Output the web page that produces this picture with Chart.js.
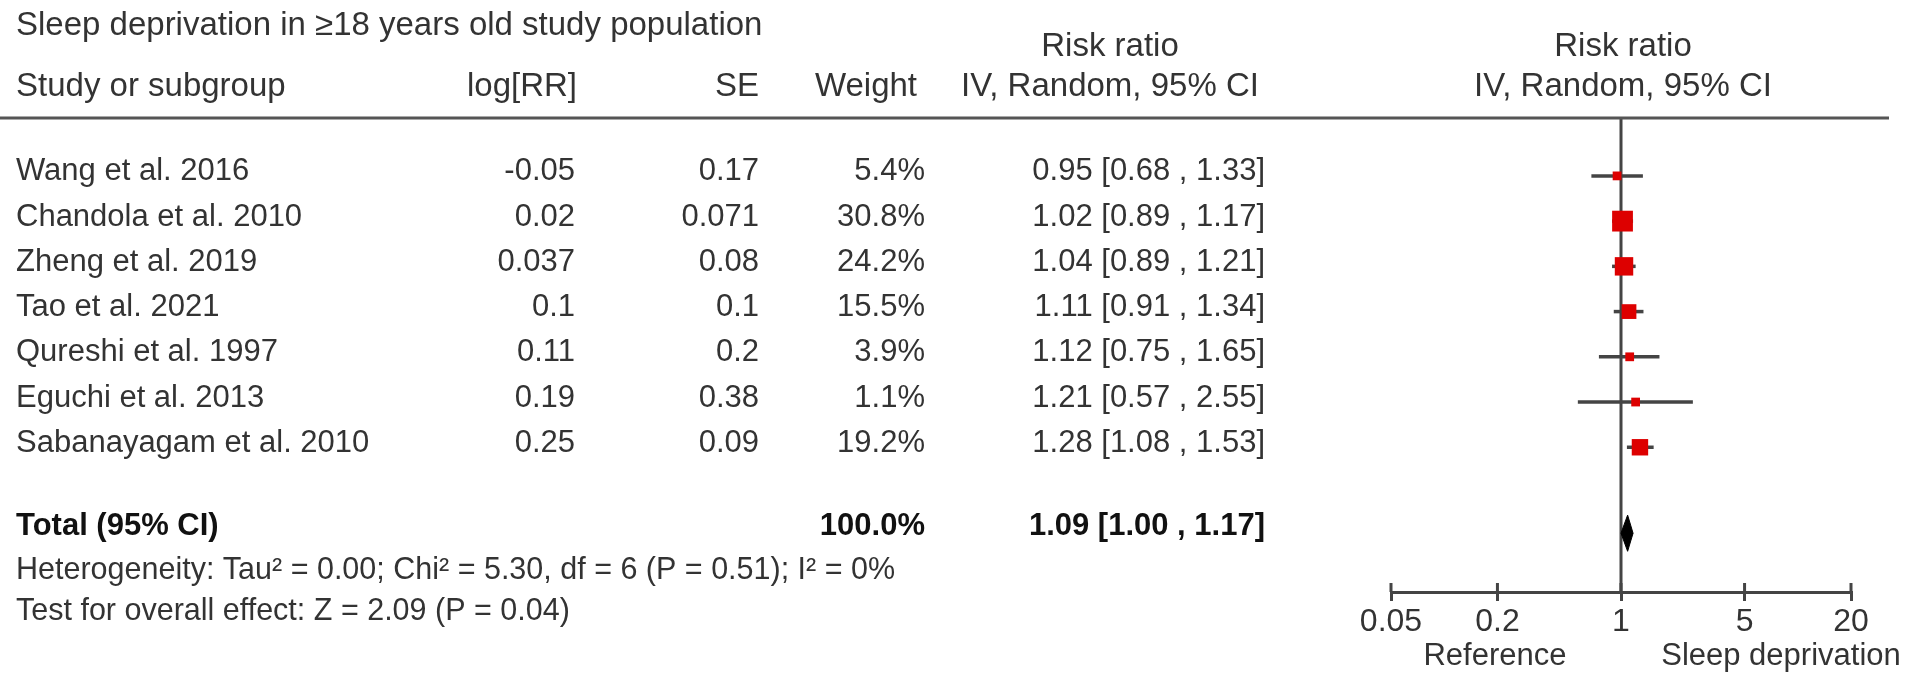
<!DOCTYPE html>
<html>
<head>
<meta charset="utf-8">
<script src="https://cdn.jsdelivr.net/npm/chart.js@4.4.1/dist/chart.umd.min.js"></script>
<style>
  html, body { margin: 0; padding: 0; background: #ffffff; }
  #wrap { width: 1913px; height: 685px; }
</style>
</head>
<body>
<div id="wrap"><canvas id="c" width="1913" height="685"></canvas></div>
<script>
// ---------- data ----------
const studies = ['Wang et al. 2016', 'Chandola et al. 2010', 'Zheng et al. 2019', 'Tao et al. 2021',
                 'Qureshi et al. 1997', 'Eguchi et al. 2013', 'Sabanayagam et al. 2010'];
const logRR   = [-0.05, 0.02, 0.037, 0.1, 0.11, 0.19, 0.25];
const seVals  = [0.17, 0.071, 0.08, 0.1, 0.2, 0.38, 0.09];
const weights = [5.4, 30.8, 24.2, 15.5, 3.9, 1.1, 19.2];
const rr      = [0.95, 1.02, 1.04, 1.11, 1.12, 1.21, 1.28];
const ciLow   = [0.68, 0.89, 0.89, 0.91, 0.75, 0.57, 1.08];
const ciHigh  = [1.33, 1.17, 1.21, 1.34, 1.65, 2.55, 1.53];
const totalRR = 1.09, totalLow = 1.00, totalHigh = 1.17, totalWeight = 100.0;
const tickVals = [0.05, 0.2, 1, 5, 20];
const titleText = 'Sleep deprivation in \u226518 years old study population';
const heteroText = 'Heterogeneity: Tau\u00b2 = 0.00; Chi\u00b2 = 5.30, df = 6 (P = 0.51); I\u00b2 = 0%';
const overallText = 'Test for overall effect: Z = 2.09 (P = 0.04)';
const axisLeftLabel = 'Reference';
const axisRightLabel = 'Sleep deprivation';

// ---------- layout constants ----------
const TOTAL_ROW = 7.9;
const Y_MIN = -1.28, Y_MAX = 9.2;
const FONT = "'Liberation Sans', Arial, sans-serif";
const FS_HEAD = 33, FS_ROW = 31, FS_FOOT = 30.5, FS_TICK = 32, FS_CAP = 31;
const TXT = '#333333';
const LINE = '#444444';

const fmt2 = v => v.toFixed(2);
const ciStr = (m, l, h) => fmt2(m) + ' [' + fmt2(l) + ' , ' + fmt2(h) + ']';

// ---------- datasets ----------
const datasets = [];
// reference line at RR = 1
datasets.push({
  type: 'line', data: [{x: 1, y: Y_MIN}, {x: 1, y: Y_MAX}],
  borderColor: LINE, borderWidth: 3, pointRadius: 0, fill: false, order: 5
});
// CI whiskers
studies.forEach((s, i) => {
  datasets.push({
    type: 'line', data: [{x: ciLow[i], y: i}, {x: ciHigh[i], y: i}],
    borderColor: LINE, borderWidth: 3.5, pointRadius: 0, fill: false, order: 4
  });
});
// point estimates (square size by weight)
datasets.push({
  type: 'scatter',
  data: studies.map((s, i) => ({x: rr[i], y: i})),
  pointStyle: 'rect',
  pointRadius: weights.map(w => Math.max(6.2, 2.65 * Math.sqrt(w))),
  backgroundColor: '#dd0000', borderColor: '#dd0000', borderWidth: 0, order: 1
});
// pooled diamond
datasets.push({
  type: 'line',
  data: [{x: totalLow, y: TOTAL_ROW}, {x: totalRR, y: TOTAL_ROW - 0.4},
         {x: totalHigh, y: TOTAL_ROW}, {x: totalRR, y: TOTAL_ROW + 0.4},
         {x: totalLow, y: TOTAL_ROW}],
  borderColor: '#000', borderWidth: 1, backgroundColor: '#000',
  fill: 'shape', pointRadius: 0, tension: 0, order: 0
});

// ---------- text / decoration plugin ----------
const tablePlugin = {
  id: 'table',
  afterDraw(chart) {
    const ctx = chart.ctx;
    const ys = chart.scales.y, xs = chart.scales.x;
    ctx.save();
    // header rule
    const yh = ys.getPixelForValue(Y_MIN);
    ctx.strokeStyle = '#555'; ctx.lineWidth = 3;
    ctx.beginPath(); ctx.moveTo(0, yh); ctx.lineTo(1889, yh); ctx.stroke();
    // upward tick marks on axis
    const ya = ys.getPixelForValue(Y_MAX);
    ctx.strokeStyle = LINE; ctx.lineWidth = 3;
    tickVals.forEach(v => {
      const px = xs.getPixelForValue(v);
      ctx.beginPath(); ctx.moveTo(px, ya - 9); ctx.lineTo(px, ya); ctx.stroke();
    });

    const txt = (t, x, y, align, size, bold) => {
      ctx.font = (bold ? 'bold ' : '') + size + 'px ' + FONT;
      ctx.fillStyle = bold ? '#111' : TXT;
      ctx.textAlign = align; ctx.textBaseline = 'middle';
      ctx.fillText(t, x, y);
    };
    // headers
    txt(titleText, 16, 26, 'left', FS_HEAD);
    txt('Study or subgroup', 16, 87, 'left', FS_HEAD);
    txt('log[RR]', 577, 87, 'right', FS_HEAD);
    txt('SE', 759, 87, 'right', FS_HEAD);
    txt('Weight', 917, 87, 'right', FS_HEAD);
    txt('Risk ratio', 1110, 47, 'center', FS_HEAD);
    txt('IV, Random, 95% CI', 1110, 87, 'center', FS_HEAD);
    txt('Risk ratio', 1623, 47, 'center', FS_HEAD);
    txt('IV, Random, 95% CI', 1623, 87, 'center', FS_HEAD);
    // rows
    studies.forEach((s, i) => {
      const y = ys.getPixelForValue(i) - 4;
      txt(s, 16, y, 'left', FS_ROW);
      txt(String(logRR[i]), 575, y, 'right', FS_ROW);
      txt(String(seVals[i]), 759, y, 'right', FS_ROW);
      txt(weights[i].toFixed(1) + '%', 925, y, 'right', FS_ROW);
      txt(ciStr(rr[i], ciLow[i], ciHigh[i]), 1265, y, 'right', FS_ROW);
    });
    // total
    const yt = ys.getPixelForValue(TOTAL_ROW) - 7;
    txt('Total (95% CI)', 16, yt, 'left', FS_ROW, true);
    txt(totalWeight.toFixed(1) + '%', 925, yt, 'right', FS_ROW, true);
    txt(ciStr(totalRR, totalLow, totalHigh), 1265, yt, 'right', FS_ROW, true);
    txt(heteroText, 16, ys.getPixelForValue(TOTAL_ROW) + 37, 'left', FS_FOOT);
    txt(overallText, 16, ys.getPixelForValue(TOTAL_ROW) + 78, 'left', FS_FOOT);
    // axis captions
    txt(axisLeftLabel, 1495, 656, 'center', FS_CAP);
    txt(axisRightLabel, 1781, 656, 'center', FS_CAP);
    ctx.restore();
  }
};

new Chart(document.getElementById('c'), {
  type: 'scatter',
  data: { datasets },
  options: {
    responsive: false, animation: false, devicePixelRatio: 1,
    layout: { padding: { left: 1391, right: 62, top: 118, bottom: 43 } },
    plugins: { legend: { display: false }, tooltip: { enabled: false } },
    scales: {
      x: {
        type: 'logarithmic', min: tickVals[0], max: tickVals[tickVals.length - 1],
        position: 'bottom',
        afterBuildTicks: ax => { ax.ticks = tickVals.map(v => ({ value: v })); },
        afterFit: ax => { ax.height = 50; },
        border: { display: true, color: LINE, width: 3 },
        grid: { display: true, drawOnChartArea: false, drawTicks: true, tickLength: 9, color: LINE, lineWidth: 3 },
        ticks: { color: TXT, font: { size: FS_TICK, family: FONT }, padding: 2, maxRotation: 0, autoSkip: false,
                 callback: v => String(v) }
      },
      y: {
        type: 'linear', reverse: true, min: Y_MIN, max: Y_MAX, display: false
      }
    }
  },
  plugins: [tablePlugin]
});
</script>
</body>
</html>
